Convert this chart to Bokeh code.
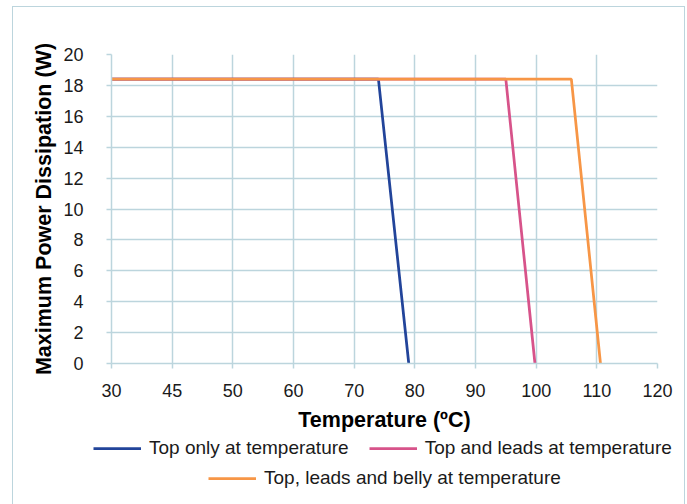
from bokeh.plotting import figure
from bokeh.models import Legend, LegendItem, FixedTicker, InlineStyleSheet, Range1d
from bokeh.embed import file_html
from bokeh.resources import INLINE

# ---- data ----
tick_values = [30, 40, 50, 60, 70, 80, 90, 100, 110, 120]
tick_labels = ["30", "45", "50", "60", "70", "80", "90", "100", "110", "120"]
y_ticks = [0, 2, 4, 6, 8, 10, 12, 14, 16, 18, 20]

top_only_x = [30, 74, 79]
top_only_y = [18.4, 18.4, 0]
top_leads_x = [30, 95, 99.8]
top_leads_y = [18.4, 18.4, 0]
top_leads_belly_x = [30, 105.8, 110.6]
top_leads_belly_y = [18.4, 18.4, 0]

series_names = ["Top only at temperature", "Top and leads at temperature",
                "Top, leads and belly at temperature"]
colors = ["#22449a", "#d7538a", "#f79646"]

FONT = "Liberation Sans"
GRID = "#bcd5dd"
LW = 2.75

p = figure(width=673, height=428, output_backend="svg", toolbar_location=None,
           x_range=Range1d(30, 120), y_range=Range1d(0, 20),
           min_border_left=98, min_border_right=29, min_border_top=47, min_border_bottom=72)
p.margin = (6, 0, 0, 12)
p.stylesheets = [InlineStyleSheet(css=":host { border-left: 1px solid %s; border-top: 1px solid %s; border-right: 1px solid %s; }" % (GRID, GRID, GRID))]
p.outline_line_color = None
p.background_fill_color = "white"
p.border_fill_color = "white"

series = [(top_only_x, top_only_y), (top_leads_x, top_leads_y), (top_leads_belly_x, top_leads_belly_y)]
for (xs, ys), c in zip(series, colors):
    p.line(xs, ys, line_color=c, line_width=LW)

# axes
p.xaxis.ticker = FixedTicker(ticks=tick_values)
p.xaxis.major_label_overrides = {v: l for v, l in zip(tick_values, tick_labels)}
p.yaxis.ticker = FixedTicker(ticks=y_ticks)
for ax in (p.xaxis[0], p.yaxis[0]):
    ax.axis_line_color = GRID
    ax.axis_line_width = 1.5
    ax.major_tick_line_color = GRID
    ax.major_tick_line_width = 1.5
    ax.major_tick_out = 5
    ax.major_tick_in = 0
    ax.minor_tick_line_color = None
    ax.major_label_text_font = FONT
    ax.major_label_text_font_size = "18px"
    ax.major_label_text_color = "#1a1a1a"
    ax.axis_label_text_font = FONT
    ax.axis_label_text_font_style = "bold"
    ax.axis_label_text_font_size = "21.5px"
    ax.axis_label_text_color = "black"

p.xaxis.axis_label = "Temperature (ºC)"
p.yaxis.axis_label = "Maximum Power Dissipation (W)"
p.xaxis.major_label_standoff = 15
p.xaxis.axis_label_standoff = 8
p.yaxis.major_label_standoff = 23
p.yaxis.axis_label_standoff = 4

p.xgrid.ticker = FixedTicker(ticks=tick_values)
p.ygrid.ticker = FixedTicker(ticks=y_ticks)
p.grid.grid_line_color = GRID
p.grid.grid_line_width = 1.5

# ---- legend panel (separate root figure; its lines lie outside its view) ----
lf = figure(width=673, height=70, output_backend="svg", toolbar_location=None,
            x_range=Range1d(1000, 1001), y_range=Range1d(1000, 1001),
            min_border=0, min_border_left=0, min_border_right=0,
            min_border_top=0, min_border_bottom=0)
lf.margin = (0, 0, 0, 12)
lf.stylesheets = [InlineStyleSheet(css=":host { border-left: 1px solid %s; border-right: 1px solid %s; }" % (GRID, GRID))]
lf.axis.visible = False
lf.grid.visible = False
lf.outline_line_color = None
lf.border_fill_color = "white"
lf.background_fill_color = "white"
rs = []
for (xs, ys), c in zip(series, colors):
    rs.append(lf.line(xs, ys, line_color=c, line_width=LW))

def make_legend(items, loc):
    return Legend(items=items, location=loc, orientation="horizontal",
                  border_line_color=None, background_fill_alpha=0,
                  glyph_width=48, glyph_height=20, label_standoff=8, spacing=20,
                  padding=0, margin=0,
                  label_text_font=FONT, label_text_font_size="19px",
                  label_text_color="#1a1a1a")

leg1 = make_legend([LegendItem(label=series_names[0], renderers=[rs[0]]),
                    LegendItem(label=series_names[1], renderers=[rs[1]])], (80, 45))
leg2 = make_legend([LegendItem(label=series_names[2], renderers=[rs[2]])], (195, 15))
lf.add_layout(leg1)
lf.add_layout(leg2)

open("out.html", "w").write(file_html([p, lf], INLINE))
